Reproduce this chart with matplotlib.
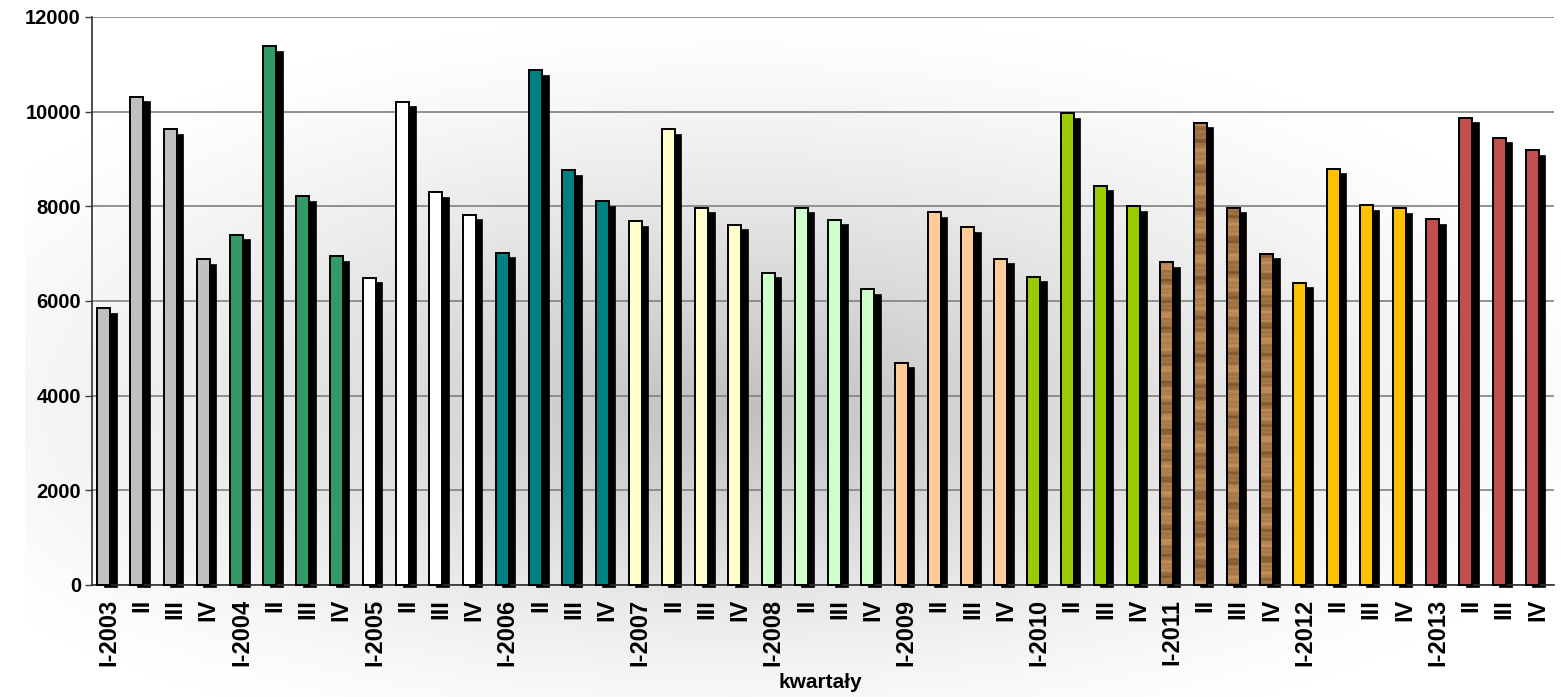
import numpy as np
import matplotlib
matplotlib.use("Agg")
import matplotlib.pyplot as plt
from matplotlib.patches import Rectangle

# ---- data ----
labels = ["I-2003", "II", "III", "IV",
          "I-2004", "II", "III", "IV",
          "I-2005", "II", "III", "IV",
          "I-2006", "II", "III", "IV",
          "I-2007", "II", "III", "IV",
          "I-2008", "II", "III", "IV",
          "I-2009", "II", "III", "IV",
          "I-2010", "II", "III", "IV",
          "I-2011", "II", "III", "IV",
          "I-2012", "II", "III", "IV",
          "I-2013", "II", "III", "IV"]
values = [5850, 10320, 9630, 6880,
          7400, 11380, 8210, 6950,
          6490, 10210, 8300, 7820,
          7020, 10870, 8760, 8110,
          7680, 9630, 7970, 7610,
          6600, 7970, 7720, 6250,
          4700, 7880, 7560, 6890,
          6510, 9970, 8430, 8000,
          6820, 9770, 7970, 7000,
          6390, 8790, 8020, 7960,
          7730, 9870, 9450, 9190]
year_colors = ["#C0C0C0", "#339966", "#FFFFFF", "#008080", "#FFFFCC",
               "#CCFFCC", "#FFCC99", "#99CC00", "wood", "#FFC000", "#C0504D"]
yticks = [0, 2000, 4000, 6000, 8000, 10000, 12000]
xlabel = "kwartały"

plt.rcParams['font.family'] = ['Liberation Sans', 'DejaVu Sans']
plt.rcParams['font.weight'] = 'bold'

W, H = 1561, 697
fig = plt.figure(figsize=(W / 100, H / 100), dpi=100)

# background gradient (whole chart area)
bg = fig.add_axes([0, 0, 1, 1], zorder=-10)
yy, xx = np.mgrid[0:H, 0:W]
cx, cy = 740.0, 410.0
rx = 900.0
ry = np.where(yy < cy, 395.0, 350.0)
r = np.sqrt(((xx - cx) / rx) ** 2 + ((yy - cy) / ry) ** 2)
t = np.clip(1 - r, 0, 1)
val = 1 - 0.25 * t ** 1.3
val[:, :25] = 1.0
img = np.dstack([val, val, val])
bg.imshow(img, extent=[0, W, H, 0], aspect='auto', interpolation='bilinear')
bg.axis('off')

ax = fig.add_axes([92 / W, (H - 585) / H, (1554 - 92) / W, (585 - 17) / H])
ax.patch.set_alpha(0)

n = len(values)
x = np.arange(n)
vals = np.array(values, dtype=float)
colors = [year_colors[i // 4] for i in range(n)]

px_x = 1.0 / 33.23       # data units per pixel (x)
px_y = 12000 / 568.0     # data units per pixel (y)

face_w = 13 * px_x
face_off = -5.0 * px_x
sh_off = face_off + 6.5 * px_x
sh_top = 4.5 * px_y
sh_bot = 2.0 * px_y

# shadows
ax.bar(x + sh_off, vals - sh_top + sh_bot, width=face_w, bottom=-sh_bot,
       color='black', edgecolor='black', linewidth=0.5, zorder=2, clip_on=False)

# faces
face_colors = ['#9A6B3E' if c == 'wood' else c for c in colors]
bars = ax.bar(x + face_off, vals, width=face_w, color=face_colors,
              edgecolor='black', linewidth=1.4, zorder=3, clip_on=False)

# wood texture for the 2011 bars
rows = 400
yv = np.linspace(0, 1, rows)
tex_base = (0.55 + 0.22 * np.sin(yv * 83.0) + 0.15 * np.sin(yv * 211.0 + 1.3)
            + 0.12 * np.sin(yv * 467.0 + 0.4) + 0.06 * np.sin(yv * 977.0 + 2.1))
tex_base = np.clip(tex_base, 0, 1) ** 0.6
dark = np.array([0.36, 0.22, 0.11])
light = np.array([0.78, 0.58, 0.36])
for i, b in enumerate(bars):
    if colors[i] != 'wood':
        continue
    tb = np.roll(tex_base, i * 53)
    tex = dark[None, None, :] + (light - dark)[None, None, :] * tb[:, None, None]
    tex = np.repeat(tex, 6, axis=1)
    xl = b.get_x()
    im = ax.imshow(tex, extent=[xl, xl + b.get_width(), 0, b.get_height()],
                   aspect='auto', zorder=3.5, interpolation='bilinear')
    clip = Rectangle((xl, 0), b.get_width(), b.get_height(), transform=ax.transData)
    im.set_clip_path(clip)
    ax.add_patch(Rectangle((xl, 0), b.get_width(), b.get_height(), fill=False,
                           edgecolor='black', linewidth=1.4, zorder=4))

ax.set_xlim(-0.5, n - 0.5)
ax.set_ylim(0, 12000)
ax.set_yticks(yticks)
ax.set_yticklabels([str(v) for v in yticks], fontsize=14.5, fontweight='bold')
ax.set_xticks(x)
ax.set_xticklabels(labels, rotation=90, fontsize=17, fontweight='bold')
ax.tick_params(axis='x', length=0, pad=10)
ax.tick_params(axis='y', length=5, width=1, color='#404040', pad=3)
ax.set_aspect('auto')

ax.yaxis.grid(True, color='#808080', linewidth=1.2)
ax.set_axisbelow(True)
for s in ['top', 'right']:
    ax.spines[s].set_visible(False)
ax.spines['left'].set_color('#303030')
ax.spines['bottom'].set_color('#303030')
ax.spines['left'].set_linewidth(1.2)
ax.spines['bottom'].set_linewidth(1.2)

fig.text(820 / W, 1 - 683 / H, xlabel, ha='center', va='center',
         fontsize=15, fontweight='bold')

fig.savefig("out.png", dpi=100)
